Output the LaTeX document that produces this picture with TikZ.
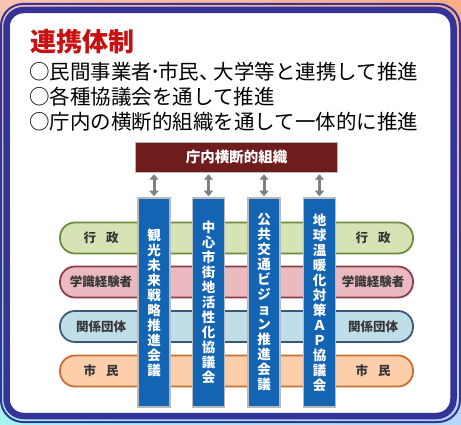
\documentclass[tikz,border=0pt]{standalone}
\usepackage{fontspec}
\newfontfamily\jp{Noto Sans CJK JP}
\usetikzlibrary{arrows.meta,shadings}
\definecolor{navy}{RGB}{51,51,153}
\definecolor{bgtl}{RGB}{250,195,175}
\definecolor{bgtr}{RGB}{250,172,135}
\definecolor{bgbl}{RGB}{165,245,240}
\definecolor{bgbr}{RGB}{180,215,250}
\definecolor{titlered}{RGB}{200,16,16}
\definecolor{maroon}{RGB}{110,28,28}
\definecolor{boxgray}{RGB}{185,185,185}
\definecolor{arrowgray}{RGB}{128,128,128}
\definecolor{vblue}{RGB}{20,100,180}
\definecolor{gfill}{RGB}{214,227,180}
\definecolor{gline}{RGB}{110,140,60}
\definecolor{pfill}{RGB}{235,186,192}
\definecolor{pline}{RGB}{140,60,75}
\definecolor{bfill}{RGB}{192,222,232}
\definecolor{bline}{RGB}{60,90,120}
\definecolor{ofill}{RGB}{252,206,170}
\definecolor{oline}{RGB}{200,110,50}
\definecolor{lbltext}{RGB}{55,55,55}
\tikzset{
  bodytext/.style={anchor=base west, inner sep=0, text=black, font=\jp\fontsize{20.5}{20.5}\selectfont},
  orgbox/.style={draw=boxgray, line width=1.5pt, fill=maroon, text=white, minimum width=202pt, minimum height=30pt, inner sep=0, font=\jp\bfseries\fontsize{14.5}{14.5}\selectfont},
  band/.style={rounded corners=15pt, minimum width=353pt, minimum height=31pt, line width=1.8pt, inner sep=0},
  lbl/.style={inner sep=0, text=lbltext, font=\jp\bfseries\fontsize{12.5}{12.5}\selectfont},
  vbox/.style={draw=boxgray, line width=1.5pt, fill=vblue, text=white, minimum width=32pt, minimum height=209pt, inner sep=0, align=center, font=\jp\bfseries\fontsize{13.5}{15}\selectfont},
  garrow/.style={draw=arrowgray, line width=3pt, {Triangle[width=9pt,length=5.5pt]}-{Triangle[width=9pt,length=5.5pt]}, shorten >=1pt, shorten <=1pt}
}
\begin{document}
\begin{tikzpicture}[x=1pt,y=-1pt]
\useasboundingbox (0,0) rectangle (461,425);
\shade[upper left=bgtl, upper right=bgtr, lower left=bgbl, lower right=bgbr] (0,0) rectangle (461,425);
\draw[navy, line width=2pt, rounded corners=22pt] (1,4) rectangle (460,422);
\draw[navy, fill=white, line width=6.5pt, rounded corners=17pt] (6.5,10) rectangle (453.5,416);

\node[anchor=base west, inner sep=0, text=titlered, font=\jp\bfseries\fontsize{26}{26}\selectfont] (title) at (30,51.5) {連携体制};
\node[bodytext] (t1) at (29,79.5) {○民間事業者\hspace{-0.1em}･\hspace{-0.1em}市民、\hspace{-0.3em}大学等と連携して推進};
\node[bodytext] (t2) at (29,104.5) {○各種協議会を通して推進};
\node[bodytext] (t3) at (29,129.5) {○庁内の横断的組織を通して一体的に推進};

\node[orgbox] (org) at (236.5,157.5) {庁内横断的組織};

\node[band, fill=gfill, draw=gline] (g1) at (236.5,238) {};
\node[band, fill=pfill, draw=pline] (g2) at (236.5,282) {};
\node[band, fill=bfill, draw=bline] (g3) at (236.5,326.5) {};
\node[band, fill=ofill, draw=oline] (g4) at (236.5,371) {};

\node[lbl] (l1) at (101,238) {行\hspace{0.8em}政};
\node[lbl] (l2) at (101,282) {学識経験者};
\node[lbl] (l3) at (101,326.5) {関係団体};
\node[lbl] (l4) at (101,371) {市\hspace{0.8em}民};
\node[lbl] (r1) at (373,238) {行\hspace{0.8em}政};
\node[lbl] (r2) at (373,282) {学識経験者};
\node[lbl] (r3) at (373,326.5) {関係団体};
\node[lbl] (r4) at (373,371) {市\hspace{0.8em}民};

\node[vbox] (c1) at (154,302.5) {観\\光\\未\\来\\戦\\略\\推\\進\\会\\議};
\node[vbox] (c2) at (208.5,302.5) {中\\心\\市\\街\\地\\活\\性\\化\\協\\議\\会};
\node[vbox] (c3) at (264,302.5) {公\\共\\交\\通\\ビ\\ジ\\ョ\\ン\\推\\進\\会\\議};
\node[vbox] (c4) at (319.5,302.5) {地\\球\\温\\暖\\化\\対\\策\\Ａ\\Ｐ\\協\\議\\会};

\draw[garrow] (org.south -| c1) -- (c1.north);
\draw[garrow] (org.south -| c2) -- (c2.north);
\draw[garrow] (org.south -| c3) -- (c3.north);
\draw[garrow] (org.south -| c4) -- (c4.north);
\end{tikzpicture}
\end{document}
